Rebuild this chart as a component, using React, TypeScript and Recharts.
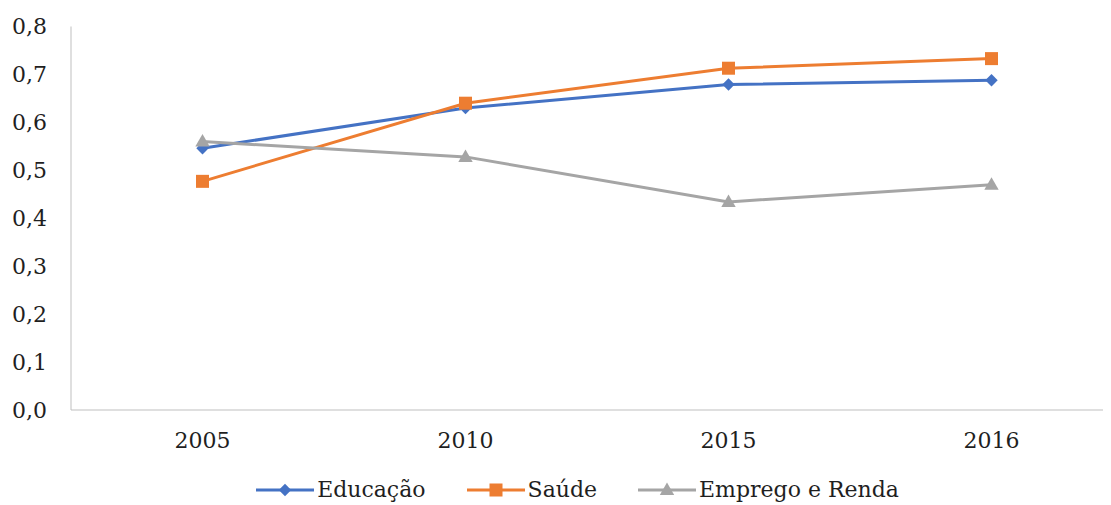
import React from "react";
import { LineChart, Line, XAxis, YAxis, Legend } from "recharts";

const years = ["2005", "2010", "2015", "2016"];
const educacao = [0.546, 0.63, 0.679, 0.688];
const saude = [0.477, 0.64, 0.713, 0.733];
const emprego = [0.56, 0.528, 0.434, 0.47];
const yTicks = [0, 0.1, 0.2, 0.3, 0.4, 0.5, 0.6, 0.7, 0.8];

const seriesInfo = [
  { key: "educacao", name: "Educação", color: "#4472C4", shape: "diamond" },
  { key: "saude", name: "Saúde", color: "#ED7D31", shape: "square" },
  { key: "emprego", name: "Emprego e Renda", color: "#A5A5A5", shape: "triangle" },
];

const data = years.map((y, i) => ({
  year: y,
  educacao: educacao[i],
  saude: saude[i],
  emprego: emprego[i],
}));

const FONT = "DejaVu Serif";
const TEXT = "#1f1f1f";
const FS = 22;

function Marker({ shape, cx, cy, color }: any) {
  if (shape === "diamond") {
    const s = 6.2;
    return (
      <path
        d={`M${cx},${cy - s}L${cx + s},${cy}L${cx},${cy + s}L${cx - s},${cy}Z`}
        fill={color}
      />
    );
  }
  if (shape === "square") {
    const s = 6.5;
    return <rect x={cx - s} y={cy - s} width={2 * s} height={2 * s} fill={color} />;
  }
  const w = 7.2;
  const h = 12.5;
  return (
    <path
      d={`M${cx},${cy - h * 0.6}L${cx + w},${cy + h * 0.4}L${cx - w},${cy + h * 0.4}Z`}
      fill={color}
    />
  );
}

const makeDot = (shape: string, color: string) => (props: any) => {
  const { cx, cy, index } = props;
  return (
    <g key={`${shape}-${index}`}>
      <Marker shape={shape} cx={cx} cy={cy} color={color} />
    </g>
  );
};

function LegendContent() {
  return (
    <div
      style={{
        height: 55,
        display: "flex",
        justifyContent: "center",
        alignItems: "flex-end",
        paddingLeft: 32,
        boxSizing: "border-box",
        fontFamily: FONT,
        fontSize: FS,
        color: TEXT,
      }}
    >
      {seriesInfo.map((s, i) => (
        <div
          key={s.key}
          style={{
            display: "flex",
            alignItems: "center",
            marginLeft: i === 0 ? 0 : 41,
            lineHeight: "30px",
          }}
        >
          <svg width={58} height={20} style={{ marginRight: 3 }}>
            <line x1={0} y1={10} x2={58} y2={10} stroke={s.color} strokeWidth={3} />
            <Marker shape={s.shape} cx={29} cy={10} color={s.color} />
          </svg>
          <span>{s.name}</span>
        </div>
      ))}
    </div>
  );
}

export default function App() {
  return (
    <div
      style={{
        position: "relative",
        width: 1111,
        height: 505,
        overflow: "hidden",
        margin: "-8px 0 0 -8px",
        background: "#fff",
        fontFamily: FONT,
      }}
    >
      <LineChart
        width={1123}
        height={505}
        data={data}
        margin={{ top: 26.5, right: 0, bottom: 0, left: 0 }}
        style={{ fontFamily: FONT }}
      >
        <XAxis
          dataKey="year"
          scale="band"
          height={40}
          tickLine={false}
          tickSize={0}
          tickMargin={22}
          axisLine={{ stroke: "#BFBFBF", strokeWidth: 1 }}
          tick={{ fill: TEXT, fontSize: FS, fontFamily: FONT }}
          interval={0}
        />
        <YAxis
          width={71}
          domain={[0, 0.8]}
          ticks={yTicks}
          tickFormatter={(v: number) => v.toFixed(1).replace(".", ",")}
          tickLine={false}
          tickSize={0}
          tickMargin={24}
          axisLine={{ stroke: "#BFBFBF", strokeWidth: 1 }}
          tick={{ fill: TEXT, fontSize: FS, fontFamily: FONT }}
          interval={0}
        />
        <Legend verticalAlign="bottom" content={<LegendContent />} />
        {seriesInfo.map((s) => (
          <Line
            key={s.key}
            dataKey={s.key}
            name={s.name}
            stroke={s.color}
            strokeWidth={3}
            isAnimationActive={false}
            dot={makeDot(s.shape, s.color)}
            activeDot={false}
          />
        ))}
      </LineChart>
    </div>
  );
}
